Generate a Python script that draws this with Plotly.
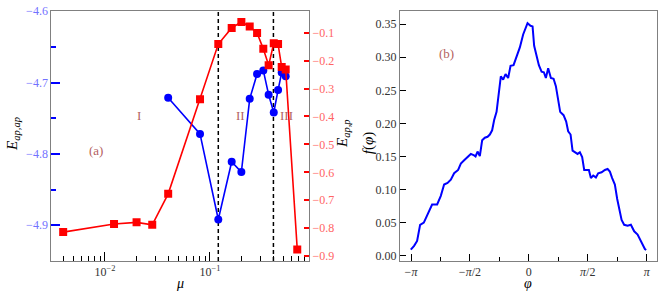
import numpy as np
import plotly.graph_objects as go

# ---- panel (a) data ----
mu = [0.0040, 0.0122, 0.0200, 0.0282, 0.0400, 0.0804, 0.120, 0.161, 0.199, 0.239,
      0.281, 0.322, 0.362, 0.405, 0.445, 0.482, 0.526, 0.678]
e_ap_p = [-0.814, -0.785, -0.779, -0.788, -0.677, -0.338, -0.141, -0.083, -0.062, -0.078,
          -0.101, -0.158, -0.217, -0.138, -0.141, -0.223, -0.232, -0.876]
mu_ap = mu[4:17]
e_ap_ap = [-4.7214, -4.772, -4.892, -4.811, -4.8255, -4.7228, -4.688, -4.683, -4.717,
           -4.742, -4.7105, -4.686, -4.691]
boundaries = [0.12, 0.402]
left_ticks = [-4.6, -4.7, -4.8, -4.9]
right_ticks = [-0.1, -0.2, -0.3, -0.4, -0.5, -0.6, -0.7, -0.8, -0.9]

# ---- panel (b) data ----
phi = [-3.147, -3.059, -2.979, -2.899, -2.800, -2.747, -2.667, -2.579, -2.445, -2.347,
       -2.259, -2.168, -2.080, -1.992, -1.885, -1.813, -1.725, -1.619, -1.547, -1.459,
       -1.421, -1.368, -1.307, -1.245, -1.173, -1.101, -1.040, -0.979, -0.925, -0.861,
       -0.800, -0.747, -0.685, -0.621, -0.552, -0.488, -0.408, -0.328, -0.240, -0.152,
       -0.107, -0.035, 0.045, 0.099, 0.141, 0.205, 0.267, 0.339, 0.400, 0.453,
       0.515, 0.587, 0.659, 0.720, 0.781, 0.835, 0.925, 0.995, 1.048, 1.112,
       1.165, 1.245, 1.299, 1.360, 1.421, 1.475, 1.600, 1.653, 1.715, 1.787,
       1.848, 1.939, 2.027, 2.099, 2.160, 2.221, 2.293, 2.355, 2.408, 2.472,
       2.541, 2.632, 2.720, 2.808, 2.899, 2.960, 3.021, 3.093, 3.128]
f_phi = [0.0092, 0.0151, 0.0224, 0.0468, 0.0501, 0.0566, 0.0673, 0.0775, 0.0775, 0.0906,
         0.1077, 0.1101, 0.1151, 0.1247, 0.1297, 0.1393, 0.1443, 0.1506, 0.1539, 0.1516,
         0.1501, 0.1575, 0.1506, 0.1744, 0.1784, 0.1798, 0.1832, 0.1896, 0.2051, 0.2174,
         0.2442, 0.2709, 0.2661, 0.2744, 0.2686, 0.2870, 0.2880, 0.3001, 0.3148, 0.3344,
         0.3420, 0.3513, 0.3475, 0.3465, 0.3173, 0.3026, 0.2880, 0.2782, 0.2773, 0.2686,
         0.2832, 0.2686, 0.2675, 0.2563, 0.2344, 0.2174, 0.2124, 0.2028, 0.1882, 0.1832,
         0.1589, 0.1564, 0.1539, 0.1564, 0.1491, 0.1297, 0.1297, 0.1174, 0.1213, 0.1184,
         0.1247, 0.1262, 0.1297, 0.1311, 0.1272, 0.1174, 0.1077, 0.0858, 0.0687, 0.0541,
         0.0468, 0.0453, 0.0468, 0.0370, 0.0322, 0.0249, 0.0175, 0.0102, 0.0088]
phi_ticks = [-np.pi, -np.pi / 2, 0, np.pi / 2, np.pi]
phi_labels = ["−<i>π</i>", "−<i>π</i>/2", "0", "<i>π</i>/2", "<i>π</i>"]
f_ticks = [0.0, 0.05, 0.10, 0.15, 0.20, 0.25, 0.30, 0.35]

W, H = 664, 295
FONT = "Liberation Serif"
LABEL_C = "#b45f5f"
FRAME = "#808080"

fig = go.Figure()

yr_left = [-4.95, -4.5995]
yr_right = [-0.917, -0.022]

for b in boundaries:
    fig.add_trace(go.Scatter(x=[b, b], y=yr_left, mode="lines", xaxis="x", yaxis="y",
                             line=dict(color="black", width=1.5, dash="4px,3px"),
                             showlegend=False, hoverinfo="skip"))

fig.add_trace(go.Scatter(x=mu_ap, y=e_ap_ap, mode="lines+markers", xaxis="x", yaxis="y",
                         line=dict(color="#0000ff", width=1.6),
                         marker=dict(symbol="circle", size=8, color="#0000ff"),
                         showlegend=False))
fig.add_trace(go.Scatter(x=mu, y=e_ap_p, mode="lines+markers", xaxis="x", yaxis="y2",
                         line=dict(color="#ff0000", width=1.6),
                         marker=dict(symbol="square", size=8, color="#ff0000"),
                         showlegend=False))
fig.add_trace(go.Scatter(x=phi, y=f_phi, mode="lines", xaxis="x3", yaxis="y3",
                         line=dict(color="#0000ff", width=2),
                         showlegend=False))

x0a, x1a = 51.3 / W, 309 / W
x0b, x1b = 400 / W, 656.7 / W
ytop, ybot = 1 - 5 / H, 1 - 262 / H

minor_log = [m * 10 ** e for e in (-3, -2, -1) for m in range(2, 10)]
minor_log = [v for v in minor_log if 10 ** -2.511 < v < 10 ** -0.057]

tickfont = dict(family=FONT, size=12, color="#333333")

fig.update_layout(
    width=W, height=H,
    margin=dict(l=0, r=0, t=0, b=0),
    paper_bgcolor="white", plot_bgcolor="white",
    font=dict(family=FONT, size=12),
    xaxis=dict(domain=[x0a, x1a], type="log", range=[-2.511, -0.057],
               tickvals=[0.01, 0.1], ticktext=["10<sup>−2</sup>", "10<sup>−1</sup>"],
               ticks="inside", ticklen=9, tickcolor="black", tickwidth=1,
               minor=dict(tickvals=minor_log, ticks="inside", ticklen=5,
                          tickcolor="black", tickwidth=1, showgrid=False),
               showline=True, linecolor=FRAME, linewidth=1, mirror=True,
               showgrid=False, zeroline=False, anchor="y", tickfont=tickfont),
    yaxis=dict(domain=[ybot, ytop], range=yr_left, tickvals=left_ticks,
               ticktext=["−4.6", "−4.7", "−4.8", "−4.9"],
               ticks="inside", ticklen=9, tickcolor="#0000ff", tickwidth=1.5,
               minor=dict(dtick=0.1, tick0=-4.65, ticks="inside", ticklen=5,
                          tickcolor="#0000ff", tickwidth=1.5, showgrid=False),
               showline=True, linecolor=FRAME, linewidth=1,
               showgrid=False, zeroline=False, anchor="x",
               ticklabeloverflow="allow",
               tickfont=dict(family=FONT, size=12, color="#7272ff")),
    yaxis2=dict(overlaying="y", side="right", anchor="x", range=yr_right,
                tickvals=right_ticks,
                ticktext=["−0.%d" % i for i in range(1, 10)],
                ticks="inside", ticklen=5, tickcolor="#ff0000", tickwidth=1.5,
                showline=True, linecolor=FRAME, linewidth=1,
                showgrid=False, zeroline=False,
                tickfont=dict(family=FONT, size=12, color="#ff6464")),
    xaxis3=dict(domain=[x0b, x1b], range=[-3.435, 3.408], tickvals=phi_ticks,
                ticktext=phi_labels, ticks="inside", ticklen=7, tickcolor="black",
                minor=dict(tickvals=[-3 * np.pi / 4, -np.pi / 4, np.pi / 4, 3 * np.pi / 4],
                           ticks="inside", ticklen=4, tickcolor="black", showgrid=False),
                showline=True, linecolor=FRAME, linewidth=1, mirror=True,
                showgrid=False, zeroline=False, anchor="y3", tickfont=tickfont),
    yaxis3=dict(domain=[ybot, ytop], range=[-0.0077, 0.370], tickvals=f_ticks,
                ticktext=["%.2f" % v for v in f_ticks], ticks="inside", ticklen=6,
                tickcolor="black", showline=True, linecolor=FRAME, linewidth=1,
                mirror=True, showgrid=False, zeroline=False, anchor="x3",
                tickfont=tickfont),
)

ann = []
def A(text, x, y, xref="paper", yref="paper", size=14, color="black", angle=0,
      yanchor="middle"):
    ann.append(dict(text=text, x=x, y=y, xref=xref, yref=yref, showarrow=False,
                    font=dict(family=FONT, size=size, color=color), textangle=angle,
                    xanchor="center", yanchor=yanchor))

A("I", np.log10(0.0209), -4.7456, "x", "y", 13, LABEL_C)
A("II", np.log10(0.197), -4.7456, "x", "y", 13, LABEL_C)
A("III", np.log10(0.53), -4.7456, "x", "y", 13, LABEL_C)
A("(a)", np.log10(0.0082), -4.7955, "x", "y", 13, LABEL_C)
A("(b)", -2.187, 0.305, "x3", "y3", 13, LABEL_C)
A("<i>E</i><sub><i>ap,ap</i></sub>", 13.5 / W, 1 - 132 / H, angle=-90, size=15)
A("<i>E</i><sub><i>ap,p</i></sub>", 343.5 / W, 1 - 131 / H, angle=-90, size=15)
A("<i>f</i>(<i>φ</i>)", 368 / W, 1 - 141 / H, angle=-90, size=15)
A("<i>μ</i>", 180 / W, 0.0, size=14, yanchor="bottom")
A("<i>φ</i>", 528 / W, 0.0, size=14, yanchor="bottom")
fig.update_layout(annotations=ann)

fig.write_html("out.html", config={"displayModeBar": False},
               post_script="document.body.style.margin='0';document.body.style.overflow='hidden';")
